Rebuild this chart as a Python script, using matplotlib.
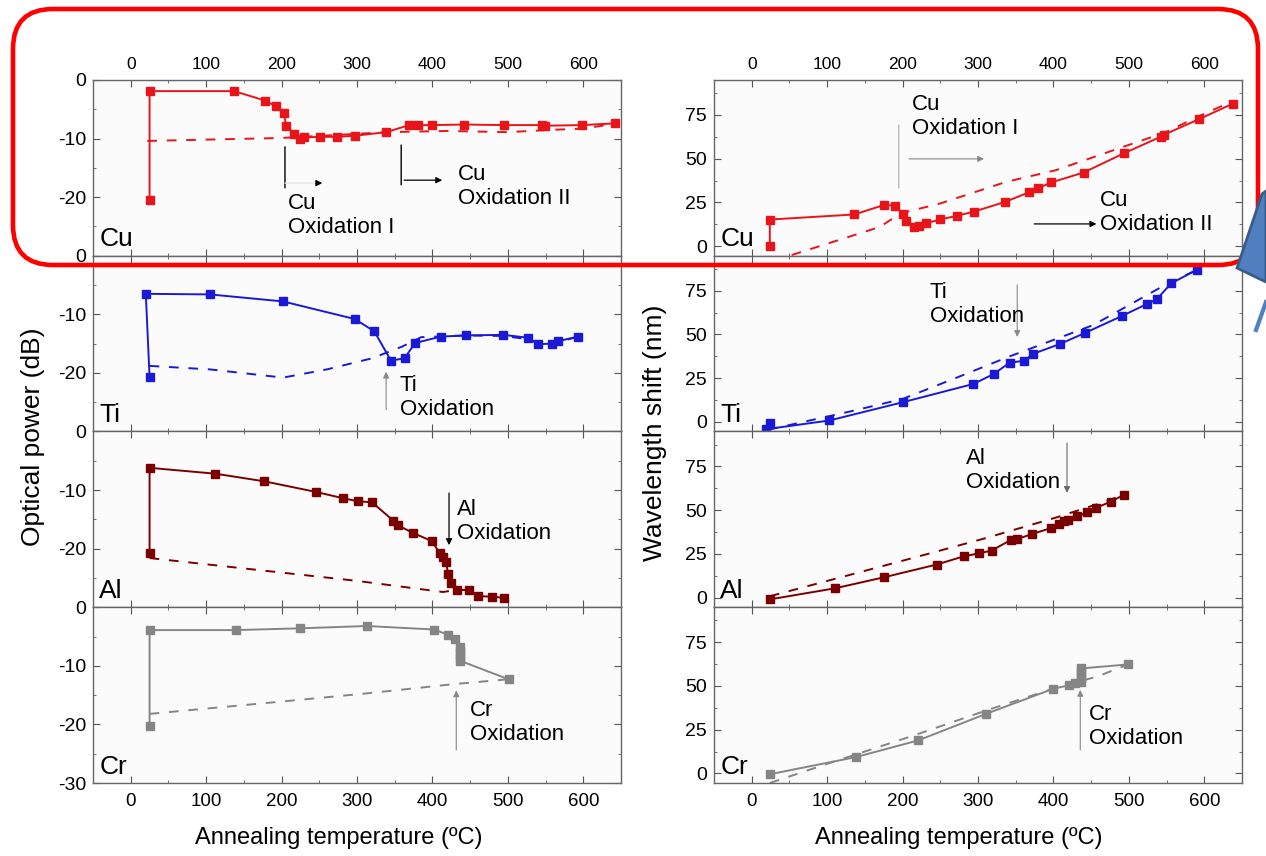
import matplotlib
matplotlib.use('Agg')
import matplotlib.pyplot as plt
from matplotlib.patches import FancyBboxPatch, Polygon
from matplotlib.transforms import IdentityTransform
from matplotlib.ticker import MultipleLocator
from matplotlib.lines import Line2D

plt.rcParams['font.family'] = ['Liberation Sans', 'DejaVu Sans']
plt.rcParams['axes.unicode_minus'] = False

# ---- optical power (dB) vs annealing temperature, heating (solid) ----
cu_pow_t = [25, 25, 137, 178, 193, 203, 206, 216, 224, 230, 251, 274, 298, 339,
            369, 381, 400, 442, 495, 545, 549, 598, 642]
cu_pow = [-20.5, -1.9, -1.9, -3.5, -4.5, -5.6, -7.8, -9.2, -10.1, -9.8, -9.7, -9.7,
          -9.5, -8.9, -7.7, -7.7, -7.7, -7.6, -7.7, -7.7, -7.8, -7.7, -7.4]
ti_pow_t = [25, 20, 105, 202, 297, 323, 345, 363, 377, 411, 445, 494, 527, 540,
            559, 566, 593]
ti_pow = [-20.7, -6.5, -6.6, -7.8, -10.8, -12.9, -17.9, -17.5, -14.9, -13.8, -13.6,
          -13.5, -14.0, -15.1, -15.0, -14.6, -13.8]
al_pow_t = [25, 25, 112, 177, 245, 282, 301, 320, 348, 354, 374, 399, 410, 414,
            418, 421, 424, 433, 449, 460, 479, 495]
al_pow = [-20.8, -6.2, -7.2, -8.5, -10.3, -11.4, -11.9, -12.1, -15.2, -16.0, -17.3,
          -18.7, -20.8, -21.5, -22.3, -24.4, -25.8, -27.0, -27.1, -28.1, -28.2, -28.4]
cr_pow_t = [25, 25, 139, 224, 313, 402, 421, 430, 436, 436, 436, 436, 436, 501]
cr_pow = [-20.3, -3.9, -3.9, -3.6, -3.2, -3.8, -4.7, -5.5, -6.8, -7.4, -8.0, -8.6,
          -9.1, -12.3]

# ---- optical power, second run (dashed) ----
cu_pow2_t = [22, 200, 340, 420, 500, 560, 600, 645]
cu_pow2 = [-10.4, -9.9, -8.9, -8.7, -8.9, -8.5, -8.3, -7.4]
ti_pow2_t = [25, 105, 202, 260, 320, 360, 385, 445, 494, 530, 545, 566, 593]
ti_pow2 = [-18.8, -19.4, -20.8, -19.4, -17.5, -15.5, -13.9, -13.6, -13.7, -14.3,
           -15.3, -14.8, -13.8]
al_pow2_t = [25, 300, 414, 433]
al_pow2 = [-21.6, -25.5, -27.4, -27.0]
cr_pow2_t = [25, 200, 313, 430, 500]
cr_pow2 = [-18.2, -16.1, -14.7, -13.1, -12.3]

# ---- wavelength shift (nm), heating (solid) ----
cu_wl_t = [24, 24, 136, 176, 190, 201, 204, 215, 222, 231, 250, 272, 295, 336, 367,
           379, 397, 440, 493, 542, 547, 593, 638]
cu_wl = [0.0, 15.2, 18.1, 23.6, 23.2, 18.1, 14.5, 11.0, 11.6, 13.0, 15.3, 17.3, 19.8,
         25.3, 30.7, 33.0, 36.4, 42.1, 53.0, 62.5, 63.8, 72.6, 81.5]
ti_wl_t = [24, 19, 103, 200, 294, 321, 342, 361, 373, 409, 442, 491, 524, 537, 556, 590]
ti_wl = [-0.8, -4.2, 0.8, 11.2, 21.7, 27.4, 33.9, 34.9, 38.9, 44.6, 50.9, 60.6, 67.4,
         70.1, 79.2, 86.9]
al_wl_t = [24, 110, 175, 245, 281, 301, 318, 344, 352, 372, 397, 408, 414, 419, 431,
           445, 456, 476, 494]
al_wl = [-1.0, 5.3, 11.6, 18.9, 23.6, 25.3, 26.9, 33.1, 33.5, 36.4, 39.8, 42.1, 43.6,
         44.6, 46.5, 48.7, 51.2, 54.9, 58.9]
cr_wl_t = [24, 138, 221, 311, 400, 420, 428, 436, 436, 436, 436, 436, 499]
cr_wl = [-0.5, 9.3, 18.9, 34.1, 48.4, 50.3, 51.8, 52.5, 54.5, 56.5, 58.5, 60.0, 62.3]

# ---- wavelength shift, second run (dashed) ----
cu_wl2_t = [53, 170, 197, 250, 337, 403, 492, 548, 591, 638]
cu_wl2 = [-5.1, 11.0, 18.7, 24.4, 36.7, 43.4, 56.7, 65.0, 73.9, 83.0]
ti_wl2_t = [22, 130, 200, 270, 341, 453, 548, 590]
ti_wl2 = [-4.5, 5.9, 13.1, 25.0, 37.3, 55.4, 78.3, 86.9]
al_wl2_t = [24, 130, 225, 310, 405, 462, 494]
al_wl2 = [0.8, 13.0, 24.0, 34.0, 46.0, 54.0, 58.9]
cr_wl2_t = [24, 106, 215, 311, 400, 459, 499]
cr_wl2 = [-5.5, 6.3, 21.7, 36.0, 48.5, 55.5, 62.3]

metals = ['Cu', 'Ti', 'Al', 'Cr']
colors = ['#e8141a', '#1a1ad6', '#7a0000', '#858585']

pow_solid = [(cu_pow_t, cu_pow), (ti_pow_t, ti_pow), (al_pow_t, al_pow), (cr_pow_t, cr_pow)]
pow_dash = [(cu_pow2_t, cu_pow2), (ti_pow2_t, ti_pow2), (al_pow2_t, al_pow2), (cr_pow2_t, cr_pow2)]
wl_solid = [(cu_wl_t, cu_wl), (ti_wl_t, ti_wl), (al_wl_t, al_wl), (cr_wl_t, cr_wl)]
wl_dash = [(cu_wl2_t, cu_wl2), (ti_wl2_t, ti_wl2), (al_wl2_t, al_wl2), (cr_wl2_t, cr_wl2)]

W, H = 1266, 856
fig = plt.figure(figsize=(W / 100, H / 100), dpi=100)

top_px, bot_px = 80, 783
ph = (bot_px - top_px) / 4


def make_axes(x0_px, i):
    y0 = 1 - (top_px + (i + 1) * ph) / H
    return fig.add_axes([x0_px / W, y0, 528 / W, ph / H])


def style(ax, i):
    ax.set_facecolor('#fbfbfb')
    ax.set_xlim(-50, 650)
    ax.xaxis.set_major_locator(MultipleLocator(100))
    ax.xaxis.set_minor_locator(MultipleLocator(50))
    ax.tick_params(which='both', direction='in', top=True, right=True, colors='#555555')
    ax.tick_params(which='major', length=5)
    ax.tick_params(which='minor', length=2.5)
    ax.tick_params(axis='y', labelsize=14, labelcolor='k', pad=5)
    ax.tick_params(axis='x', labelcolor='k')
    for s in ax.spines.values():
        s.set_color('#666666')
        s.set_linewidth(1)
    if i == 0:
        ax.tick_params(axis='x', labeltop=True, labelbottom=False, labelsize=12.5, pad=6)
    elif i == 3:
        ax.tick_params(axis='x', labelbottom=True, labelsize=13.5, pad=7)
    else:
        ax.tick_params(axis='x', labelbottom=False)


def ann_text(ax, x, y, s):
    ax.text(x, y, s, fontsize=16, va='top', ha='left', linespacing=1.2)


def arrow(ax, start, end, color='k', lw=0.9):
    ax.annotate('', xy=end, xytext=start,
                arrowprops=dict(arrowstyle='-|>', color=color, lw=lw,
                                mutation_scale=9, shrinkA=0, shrinkB=0))


def bar(ax, start, end, color='k', lw=1.0):
    ax.annotate('', xy=end, xytext=start,
                arrowprops=dict(arrowstyle='-', color=color, lw=lw,
                                shrinkA=0, shrinkB=0))


left_axes = []
right_axes = []
for i in range(4):
    c = colors[i]
    # optical power column
    ax = make_axes(93, i)
    style(ax, i)
    ax.set_ylim(-30, 0)
    ax.yaxis.set_minor_locator(MultipleLocator(5))
    if i < 3:
        ax.set_yticks([0, -10, -20])
    else:
        ax.set_yticks([0, -10, -20, -30])
    t, v = pow_dash[i]
    ax.plot(t, v, '--', color=c, lw=1.4, dashes=(5, 5))
    t, v = pow_solid[i]
    ax.plot(t, v, '-s', color=c, lw=1.4, ms=5.5, mec=c)
    ax.text(0.012, 0.025, metals[i], transform=ax.transAxes, fontsize=19, va='bottom')
    left_axes.append(ax)

    # wavelength shift column
    ax = make_axes(714, i)
    style(ax, i)
    ax.set_ylim(-5.5, 95)
    ax.yaxis.set_major_locator(MultipleLocator(25))
    ax.yaxis.set_minor_locator(MultipleLocator(12.5))
    t, v = wl_dash[i]
    ax.plot(t, v, '--', color=c, lw=1.4, dashes=(5, 5))
    t, v = wl_solid[i]
    ax.plot(t, v, '-s', color=c, lw=1.4, ms=5.5, mec=c)
    ax.text(0.012, 0.025, metals[i], transform=ax.transAxes, fontsize=19, va='bottom')
    right_axes.append(ax)

# annotations, optical power
ax = left_axes[0]
bar(ax, (204.5, -11.4), (204.5, -18.4))
bar(ax, (204.5, -17.6), (250, -17.6), color='#e6e6e6')
arrow(ax, (246, -17.6), (254, -17.6))
ann_text(ax, 208.5, -19.3, 'Cu\nOxidation I')
bar(ax, (358.6, -11.1), (358.6, -17.9))
arrow(ax, (362.5, -17.1), (413, -17.1))
ann_text(ax, 434, -14.3, 'Cu\nOxidation II')

ax = left_axes[1]
arrow(ax, (338.6, -26.3), (338.6, -19.8), color='#888888', lw=0.8)
ann_text(ax, 357, -20.3, 'Ti\nOxidation')

ax = left_axes[2]
arrow(ax, (422, -10.5), (422, -19.4))
ann_text(ax, 433, -11.5, 'Al\nOxidation')

ax = left_axes[3]
arrow(ax, (431.6, -24.4), (431.6, -14.2), color='#888888', lw=0.8)
ann_text(ax, 450, -15.8, 'Cr\nOxidation')

# annotations, wavelength shift
ax = right_axes[0]
bar(ax, (195, 69.3), (195, 33.3), color='#bbbbbb')
ann_text(ax, 212.5, 87, 'Cu\nOxidation I')
arrow(ax, (208.5, 49.9), (308, 49.9), color='#888888', lw=0.8)
ann_text(ax, 462, 32.1, 'Cu\nOxidation II')
arrow(ax, (374.5, 12.7), (457, 12.7))

ax = right_axes[1]
arrow(ax, (352, 78.3), (352, 48.6), color='#888888', lw=0.8)
ann_text(ax, 236, 80, 'Ti\nOxidation')

ax = right_axes[2]
arrow(ax, (418, 88.4), (418, 59.9), color='#666666', lw=0.8)
ann_text(ax, 284, 85.6, 'Al\nOxidation')

ax = right_axes[3]
arrow(ax, (435.6, 13.4), (435.6, 47.7), color='#888888', lw=0.8)
ann_text(ax, 447.5, 39.7, 'Cr\nOxidation')

# axis titles
fig.text(33 / W, 1 - 437 / H, 'Optical power (dB)', rotation=90, fontsize=19,
         ha='center', va='center')
fig.text(655 / W, 1 - 433 / H, 'Wavelength shift (nm)', rotation=90, fontsize=19,
         ha='center', va='center')
fig.text(339 / W, 1 - 838 / H, 'Annealing temperature (ºC)', fontsize=17,
         ha='center', va='center')
fig.text(959 / W, 1 - 838 / H, 'Annealing temperature (ºC)', fontsize=17,
         ha='center', va='center')

# highlight frame around the Cu row and the partly visible callout shape
frame = FancyBboxPatch((13, H - 265), 1245, 256,
                       boxstyle='round,pad=0,rounding_size=40',
                       transform=IdentityTransform(), fill=False,
                       edgecolor='#ff0000', linewidth=3.3, zorder=20)
fig.add_artist(frame)
shape = Polygon([(1237, H - 268), (1262, H - 194), (1266, H - 191), (1266, H - 282)],
                closed=True, transform=IdentityTransform(), facecolor='#4f7fbf',
                edgecolor='#385d8a', linewidth=2, zorder=21)
fig.add_artist(shape)
fig.add_artist(Line2D([1256, 1266], [H - 330, H - 302], transform=IdentityTransform(),
                      color='#4f7fbf', linewidth=3, zorder=21))

fig.savefig('out.png', dpi=100)
